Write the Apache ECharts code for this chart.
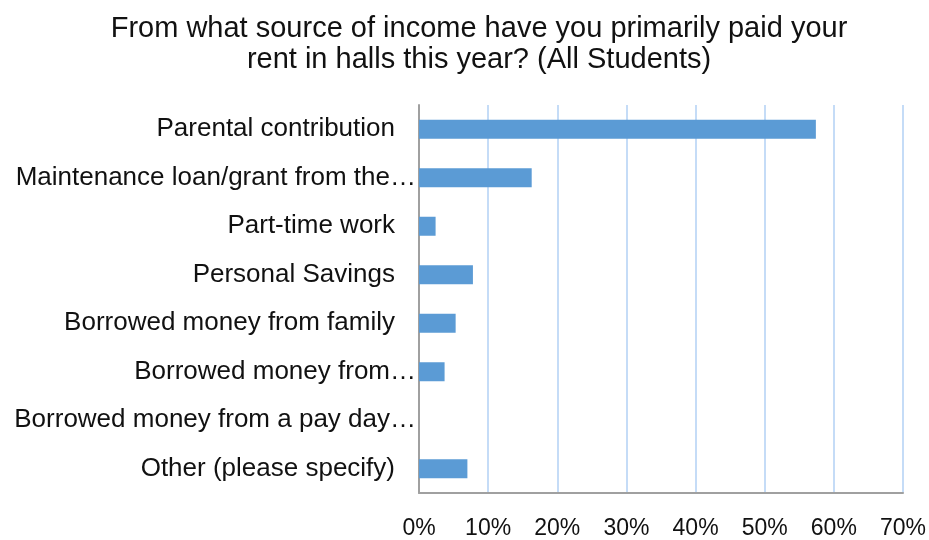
<!DOCTYPE html>
<html>
<head>
<meta charset="utf-8">
<script src="https://cdn.jsdelivr.net/npm/echarts@6/dist/echarts.min.js"></script>
<style>
  html, body { margin: 0; padding: 0; background: #ffffff; }
  #chart { width: 929px; height: 540px; }
</style>
</head>
<body>
<div id="chart"></div>
<script>
// Survey answers: primary source of income used to pay rent in halls
const categories = [
  'Parental contribution',
  'Maintenance loan/grant from the\u2026',
  'Part-time work',
  'Personal Savings',
  'Borrowed money from family',
  'Borrowed money from\u2026',
  'Borrowed money from a pay day\u2026',
  'Other (please specify)'
];
// Share of all students, in percent
const shares = [57.4, 16.3, 2.4, 7.8, 5.3, 3.7, 0, 7.0];
const ticks = [0, 10, 20, 30, 40, 50, 60, 70];

const FONT = 'Liberation Sans, Arial, sans-serif';
const chart = echarts.init(document.getElementById('chart'), null, { renderer: 'canvas' });

chart.setOption({
  animation: false,
  backgroundColor: '#ffffff',
  title: {
    text: 'From what source of income have you primarily paid your\nrent in halls this year? (All Students)',
    left: 474,
    textAlign: 'center',
    top: 8,
    textStyle: {
      fontFamily: FONT,
      fontSize: 29,
      fontWeight: 'normal',
      color: '#111111',
      lineHeight: 31
    }
  },
  grid: {
    left: 419,
    right: 26,
    top: 105,
    bottom: 47,
    containLabel: false
  },
  xAxis: {
    type: 'value',
    min: ticks[0],
    max: ticks[ticks.length - 1],
    interval: 10,
    axisLine: { show: true, lineStyle: { color: '#a0a0a0', width: 2 } },
    axisTick: { show: false },
    splitLine: { show: true, lineStyle: { color: '#c5dcf7', width: 2 } },
    axisLabel: {
      margin: 24,
      fontFamily: FONT,
      fontSize: 23,
      color: '#111111',
      formatter: v => v + '%'
    }
  },
  yAxis: {
    type: 'category',
    data: categories,
    inverse: true,
    axisLine: { show: true, lineStyle: { color: '#a0a0a0', width: 2 } },
    axisTick: { show: false },
    splitLine: { show: false },
    axisLabel: {
      margin: 3,
      interval: 0,
      fontFamily: FONT,
      fontSize: 26,
      color: '#111111',
      // truncated labels run their ellipsis past the others' right edge
      formatter: v => v.endsWith('\u2026') ? '{e|' + v + '}' : '{n|' + v + '}',
      rich: {
        n: { fontSize: 26, color: '#111111', padding: [0, 21, 0, 0], fontFamily: FONT },
        e: { fontSize: 26, color: '#111111', fontFamily: FONT }
      }
    }
  },
  series: [{
    type: 'bar',
    data: shares,
    barWidth: 19,
    itemStyle: { color: '#5b9bd5' }
  }]
});
</script>
</body>
</html>
